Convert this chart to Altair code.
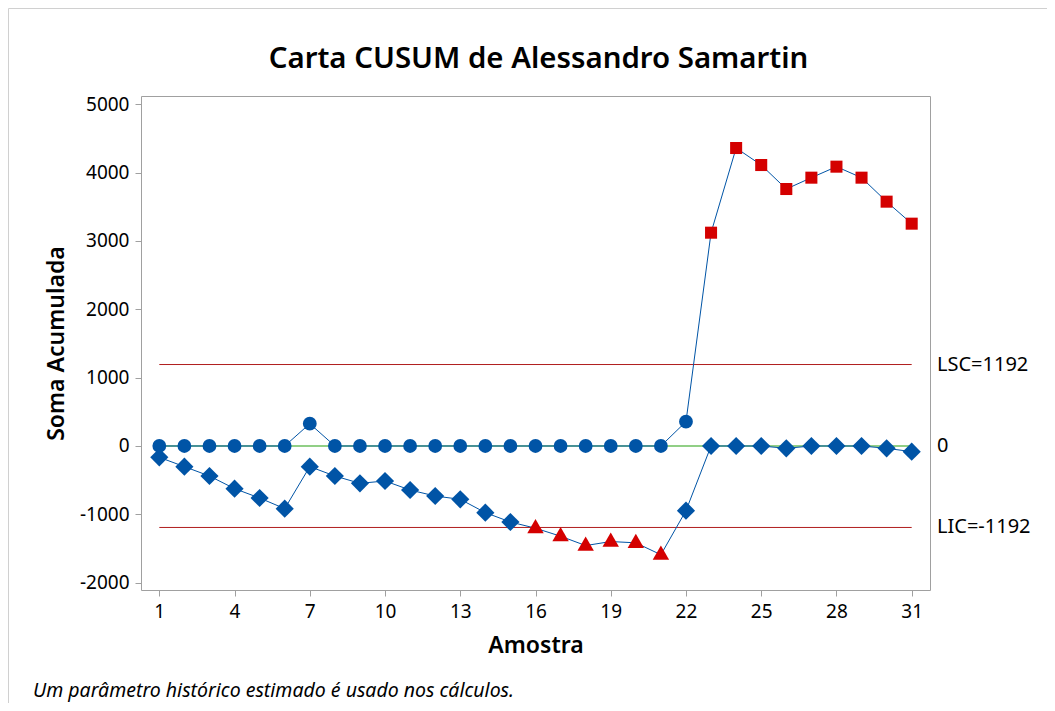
import altair as alt
import pandas as pd

# ---- data ----
samples = list(range(1, 32))
upper = [0, 0, 0, 0, 0, 0, 326, 0, 0, 0, 0, 0, 0, 0, 0, 0, 0, 0, 0, 0, 0,
         356, 3121, 4360, 4111, 3760, 3926, 4087, 3926, 3575, 3253]
lower = [-166, -302, -439, -624, -761, -917, -302, -439, -546, -512, -644,
         -732, -780, -975, -1112, -1203, -1320, -1457, -1398, -1417, -1591,
         -946, 0, 0, 0, -34, 0, 0, 0, -34, -83]
ucl = 1192
lcl = -1192
center = 0
limit_values = [ucl, center, lcl]
limit_labels = ["LSC=1192", "0", "LIC=-1192"]
x_ticks = [1, 4, 7, 10, 13, 16, 19, 22, 25, 28, 31]
y_ticks = [-2000, -1000, 0, 1000, 2000, 3000, 4000, 5000]
title_text = "Carta CUSUM de Alessandro Samartin"
x_title = "Amostra"
y_title = "Soma Acumulada"
footnote = "Um parâmetro histórico estimado é usado nos cálculos."

FONT = "Noto Sans"
BLUE = "#0054A6"
RED = "#D40000"
W, H = 789, 494

rows = []
for s, u, l in zip(samples, upper, lower):
    rows.append({"Amostra": s, "valor": u, "serie": "sup", "fora": u > ucl})
    rows.append({"Amostra": s, "valor": l, "serie": "inf", "fora": l < lcl})
df = pd.DataFrame(rows)

lim_df = pd.DataFrame({"valor": limit_values, "label": limit_labels,
                       "x1": samples[0], "x2": samples[-1]})

xs = alt.Scale(domain=[0.27, 31.73], nice=False, zero=False)
ys = alt.Scale(domain=[-2107, 5121], nice=False, zero=False)

hyphen_labels = "datum.value < 0 ? '-' + format(-datum.value, 'd') : format(datum.value, 'd')"

xenc = alt.X("Amostra:Q", scale=xs,
             axis=alt.Axis(values=x_ticks, title=x_title, format="d",
                           labelPadding=6, titlePadding=13))
yenc = alt.Y("valor:Q", scale=ys,
             axis=alt.Axis(values=y_ticks, title=y_title, labelExpr=hyphen_labels,
                           labelPadding=6, titlePadding=11))

base = alt.Chart(df)

frame = alt.Chart(pd.DataFrame({"k": [0]})).mark_rect(
    fillOpacity=0, stroke="#D0D0D0", strokeWidth=1
).encode(x=alt.value(-132.5), x2=alt.value(1100), y=alt.value(-87.5), y2=alt.value(800))

center_rule = alt.Chart(lim_df).transform_filter("datum.label == '0'").mark_rule(
    color="#6DBF5E", strokeWidth=1.5
).encode(x=alt.X("x1:Q", scale=xs), x2="x2:Q", y=alt.Y("valor:Q", scale=ys))

limit_rules = alt.Chart(lim_df).transform_filter("datum.label != '0'").mark_rule(
    color="#B01E1E", strokeWidth=1
).encode(x=alt.X("x1:Q", scale=xs), x2="x2:Q", y=alt.Y("valor:Q", scale=ys))

lines = base.mark_line(color=BLUE, strokeWidth=1).encode(
    x=xenc, y=yenc, detail="serie:N", order="Amostra:Q")

circles = base.transform_filter("datum.serie == 'sup' && !datum.fora").mark_point(
    shape="circle", filled=True, size=190, color=BLUE, opacity=1).encode(x=xenc, y=yenc)
squares = base.transform_filter("datum.serie == 'sup' && datum.fora").mark_point(
    shape="square", filled=True, size=145, color=RED, opacity=1).encode(x=xenc, y=yenc)
diamonds = base.transform_filter("datum.serie == 'inf' && !datum.fora").mark_point(
    shape="diamond", filled=True, size=330, color=BLUE, opacity=1).encode(x=xenc, y=yenc)
triangles = base.transform_filter("datum.serie == 'inf' && datum.fora").mark_point(
    shape="triangle-up", filled=True, size=270, color=RED, opacity=1, yOffset=-2
).encode(x=xenc, y=yenc)

lim_text = alt.Chart(lim_df).mark_text(
    align="left", baseline="middle", fontSize=20, font=FONT, color="#000"
).encode(x=alt.value(W + 7), y=alt.Y("valor:Q", scale=ys), text="label:N")

title_mark = alt.Chart(pd.DataFrame({"t": [title_text]})).mark_text(
    align="center", baseline="alphabetic", fontSize=29.4, font=FONT,
    fontWeight=600, color="#000"
).encode(x=alt.value(W / 2 + 3), y=alt.value(-28), text="t:N")

foot = alt.Chart(pd.DataFrame({"t": [footnote]})).mark_text(
    align="left", baseline="alphabetic", fontSize=19.5, font=FONT,
    fontStyle="italic", color="#000"
).encode(x=alt.value(-108), y=alt.value(601), text="t:N")

chart = alt.layer(
    frame, center_rule, limit_rules, lines, circles, squares, diamonds,
    triangles, lim_text, title_mark, foot
).properties(
    width=W, height=H,
    padding={"left": 133, "top": 88, "right": 117, "bottom": 113},
    autosize=alt.AutoSizeParams(type="none"),
    background="white",
).configure_view(
    stroke="#A0A0A0", strokeWidth=1
).configure_axis(
    domain=False, grid=False, tickColor="#A0A0A0", tickSize=6,
    labelFont=FONT, labelFontSize=19, labelColor="#000",
    titleFont=FONT, titleFontSize=23, titleFontWeight=600, titleColor="#000",
)

chart.save("out.html", embed_options={"renderer": "svg", "actions": False})
